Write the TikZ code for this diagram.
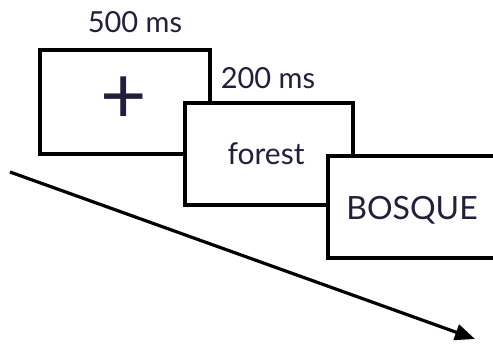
\documentclass[tikz,border=0pt]{standalone}
\usepackage{fontspec}
\setmainfont{Lato}
\usetikzlibrary{arrows.meta}
\definecolor{ink}{HTML}{221E3C}
\tikzset{
  frame/.style={draw=black, line width=4pt, fill=white, minimum width=168pt, minimum height=102pt, inner sep=0pt},
  lbl/.style={text=ink, font=\fontsize{29}{34}\selectfont, inner sep=0pt},
}
\begin{document}
\begin{tikzpicture}[x=1pt,y=1pt]
\useasboundingbox (0,0) rectangle (493,343);
\clip (0,0) rectangle (493,343);
\fill[white] (0,0) rectangle (493,343);
\coordinate (s) at (10,171);
\coordinate (e) at (475,4);
\draw[line width=3.2pt, -{Triangle[length=20pt,width=16pt]}] (s) -- (e);
\node[frame, minimum width=170pt, minimum height=104pt] (b1) at (125,241) {};
\node[lbl, font=\fontsize{80}{82}\selectfont] (plus) at (124,243) {+};
\node[frame] (b2) at (269,189) {};
\node[lbl, font=\fontsize{30}{34}\selectfont] (t2) at (266,189) {forest};
\node[frame] (b3) at (412,135.5) {};
\node[lbl, font=\fontsize{32}{36}\selectfont] (t3) at (412,133) {BOSQUE};
\node[lbl] (l1) at (135,321) {500 ms};
\node[lbl] (l2) at (268,265) {200 ms};
\end{tikzpicture}
\end{document}
